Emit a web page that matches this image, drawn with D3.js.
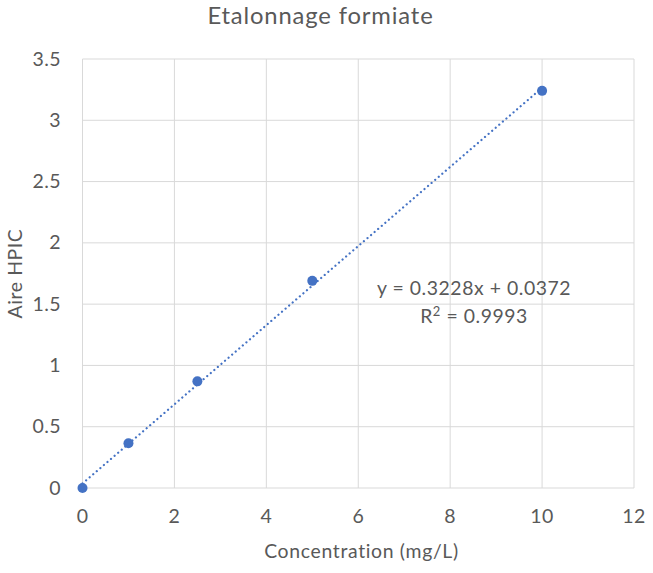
<!DOCTYPE html>
<html><head><meta charset="utf-8">
<script src="https://cdn.jsdelivr.net/npm/d3@7"></script>
<style>body{margin:0;background:#fff}svg{display:block}text{font-family:Lato,"Open Sans",sans-serif;fill:#595959}</style>
</head><body>
<script>
const title = "Etalonnage formiate";
const xLabel = "Concentration (mg/L)";
const yLabel = "Aire HPIC";
const concentrations = [0, 1, 2.5, 5, 10];
const areas = [0, 0.365, 0.87, 1.69, 3.24];
const xTicks = [0, 2, 4, 6, 8, 10, 12];
const yTicks = [0, 0.5, 1, 1.5, 2, 2.5, 3, 3.5];
const slope = 0.3228, intercept = 0.0372;
const eqText = "y = 0.3228x + 0.0372";
const r2Value = "0.9993";

const W = 653, H = 573;
const svg = d3.select("body").append("svg").attr("width", W).attr("height", H);
const x = d3.scaleLinear().domain([0, 12]).range([82.5, 634]);
const y = d3.scaleLinear().domain([0, 3.5]).range([488, 59]);

svg.append("g").selectAll("line").data(xTicks).join("line")
  .attr("x1", d => x(d)).attr("x2", d => x(d)).attr("y1", y(0)).attr("y2", y(3.5))
  .attr("stroke", "#d9d9d9").attr("stroke-width", 1);
svg.append("g").selectAll("line").data(yTicks).join("line")
  .attr("x1", x(0)).attr("x2", x(12)).attr("y1", d => y(d)).attr("y2", d => y(d))
  .attr("stroke", "#d9d9d9").attr("stroke-width", 1);

svg.append("g").selectAll("text").data(xTicks).join("text")
  .attr("x", d => x(d)).attr("y", y(0) + 35).attr("text-anchor", "middle")
  .attr("font-size", 19.5).attr("letter-spacing", 0.4).text(d => d);
svg.append("g").selectAll("text").data(yTicks).join("text")
  .attr("x", x(0) - 21.5).attr("y", d => y(d) + 6.5).attr("text-anchor", "end")
  .attr("font-size", 19.5).attr("letter-spacing", 0.4).text(d => d);

svg.append("text").attr("x", 320.5).attr("y", 24).attr("text-anchor", "middle")
  .attr("font-size", 23.8).attr("letter-spacing", 0.85).text(title);
svg.append("text").attr("x", 361.5).attr("y", 558).attr("text-anchor", "middle")
  .attr("font-size", 19.4).attr("letter-spacing", 0.67).text(xLabel);
svg.append("text").attr("transform", "translate(22,273.5) rotate(-90)").attr("text-anchor", "middle")
  .attr("font-size", 19.4).attr("letter-spacing", 0.6).text(yLabel);

const trend = [0, 10].map(v => [v, slope * v + intercept]);
svg.append("path").datum(trend)
  .attr("d", d3.line().x(d => x(d[0])).y(d => y(Math.max(0, d[1]))))
  .attr("fill", "none").attr("stroke", "#4472C4").attr("stroke-width", 2.2)
  .attr("stroke-dasharray", "0.1,4.6").attr("stroke-linecap", "round");
svg.append("g").selectAll("circle").data(concentrations.map((c, i) => [c, areas[i]])).join("circle")
  .attr("cx", d => x(d[0])).attr("cy", d => y(d[1])).attr("r", 5).attr("fill", "#4472C4");

svg.append("text").attr("x", 474).attr("y", 295).attr("text-anchor", "middle")
  .attr("font-size", 19.4).attr("letter-spacing", 0.55).text(eqText);
const r2 = svg.append("text").attr("x", 474).attr("y", 323).attr("text-anchor", "middle")
  .attr("font-size", 19.4).attr("letter-spacing", 0.55);
r2.append("tspan").text("R");
r2.append("tspan").attr("dy", -7).attr("font-size", 13).text("2");
r2.append("tspan").attr("dy", 7).text(" = " + r2Value);
</script>
</body></html>
